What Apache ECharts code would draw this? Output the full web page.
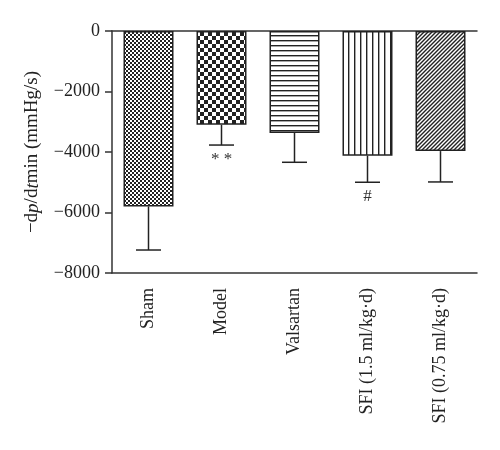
<!DOCTYPE html>
<html>
<head>
<meta charset="utf-8">
<script src="https://cdn.jsdelivr.net/npm/echarts@6/dist/echarts.min.js"></script>
<style>
  html, body { margin: 0; padding: 0; background: #fff; }
  #chart { width: 500px; height: 450px; }
</style>
</head>
<body>
<div id="chart"></div>
<script>
// data
const categories = ['Sham', 'Model', 'Valsartan', 'SFI (1.5 ml/kg·d)', 'SFI (0.75 ml/kg·d)'];
const means = [-5800, -3100, -3370, -4120, -3970];
const errorEnds = [-7240, -3770, -4340, -5000, -4990];
const marks = ['', '* *', '', '#', ''];
const yTicks = [0, -2000, -4000, -6000, -8000];

// small tiles for the hatch patterns
function makeTile(size, draw) {
    const c = document.createElement('canvas');
    c.width = size;
    c.height = size;
    const ctx = c.getContext('2d');
    ctx.fillStyle = '#fff';
    ctx.fillRect(0, 0, size, size);
    ctx.fillStyle = '#222';
    ctx.strokeStyle = '#222';
    draw(ctx, size);
    return c;
}

function checker(cell) {
    return makeTile(cell * 2, function(ctx) {
        ctx.fillRect(0, 0, cell, cell);
        ctx.fillRect(cell, cell, cell, cell);
    });
}

const patterns = [
    checker(2),
    checker(4),
    makeTile(5, function(ctx, s) { ctx.fillRect(0, 0, s, 1.4); }),
    makeTile(6, function(ctx, s) { ctx.fillRect(0, 0, 1.4, s); }),
    makeTile(4, function(ctx, s) {
        ctx.lineWidth = 1.4;
        ctx.beginPath();
        ctx.moveTo(0, s); ctx.lineTo(s, 0);
        ctx.moveTo(-1, 1); ctx.lineTo(1, -1);
        ctx.moveTo(s - 1, s + 1); ctx.lineTo(s + 1, s - 1);
        ctx.stroke();
    })
];

const font = '"Liberation Serif", "DejaVu Serif", serif';

const barData = means.map(function(v, i) {
    return {
        value: v,
        itemStyle: { color: { image: patterns[i], repeat: 'repeat' } }
    };
});

const errData = means.map(function(v, i) { return [i, v, errorEnds[i]]; });

var chartDom = document.getElementById('chart');
var myChart = echarts.init(chartDom);

var option = {
    animation: false,
    grid: { left: 112, right: 23, top: 31, bottom: 177 },
    xAxis: [
        {
            type: 'category',
            data: categories,
            position: 'bottom',
            axisLine: { onZero: false, lineStyle: { color: '#333', width: 1.5 } },
            axisTick: { alignWithLabel: true, length: 6, lineStyle: { color: '#333', width: 1.5 } },
            axisLabel: { rotate: 90, margin: 15, color: '#222', fontFamily: font, fontSize: 18 }
        },
        {
            type: 'category',
            data: categories,
            position: 'top',
            axisLine: { onZero: false, lineStyle: { color: '#333', width: 1.5 } },
            axisTick: { show: false },
            axisLabel: { show: false }
        }
    ],
    yAxis: {
        type: 'value',
        min: -8000,
        max: 0,
        interval: 2000,
        name: '{a|−d}{i|p}{a|/d}{i|t}{a|min (mmHg/s)}',
        nameLocation: 'middle',
        nameGap: 70,
        nameTextStyle: {
            rich: {
                a: { fontFamily: font, fontSize: 19, color: '#222' },
                i: { fontFamily: font, fontSize: 19, fontStyle: 'italic', color: '#222' }
            }
        },
        axisLine: { show: true, lineStyle: { color: '#333', width: 1.5 } },
        axisTick: { show: true, length: 7, lineStyle: { color: '#333', width: 1.5 } },
        axisLabel: {
            margin: 12,
            color: '#222',
            fontFamily: font,
            fontSize: 18,
            formatter: function(v) { return yTicks.indexOf(v) >= 0 ? String(v).replace('-', '−') : ''; }
        },
        splitLine: { show: false }
    },
    series: [
        {
            type: 'bar',
            data: barData,
            barWidth: 50,
            itemStyle: { borderColor: '#222', borderWidth: 1.5 }
        },
        {
            type: 'custom',
            data: errData,
            z: 1,
            renderItem: function(params, api) {
                const i = api.value(0);
                const top = api.coord([i, api.value(1)]);
                const bot = api.coord([i, api.value(2)]);
                const half = 12.5;
                const children = [
                    { type: 'line', shape: { x1: top[0], y1: top[1], x2: bot[0], y2: bot[1] },
                      style: { stroke: '#222', lineWidth: 1.5 } },
                    { type: 'line', shape: { x1: bot[0] - half, y1: bot[1], x2: bot[0] + half, y2: bot[1] },
                      style: { stroke: '#222', lineWidth: 1.5 } }
                ];
                if (marks[i]) {
                    children.push({
                        type: 'text',
                        style: {
                            text: marks[i], x: bot[0], y: bot[1] + 6,
                            align: 'center', verticalAlign: 'top',
                            fontFamily: font, fontSize: 17, fill: '#333'
                        }
                    });
                }
                return { type: 'group', children: children };
            }
        }
    ]
};

myChart.setOption(option);
</script>
</body>
</html>
